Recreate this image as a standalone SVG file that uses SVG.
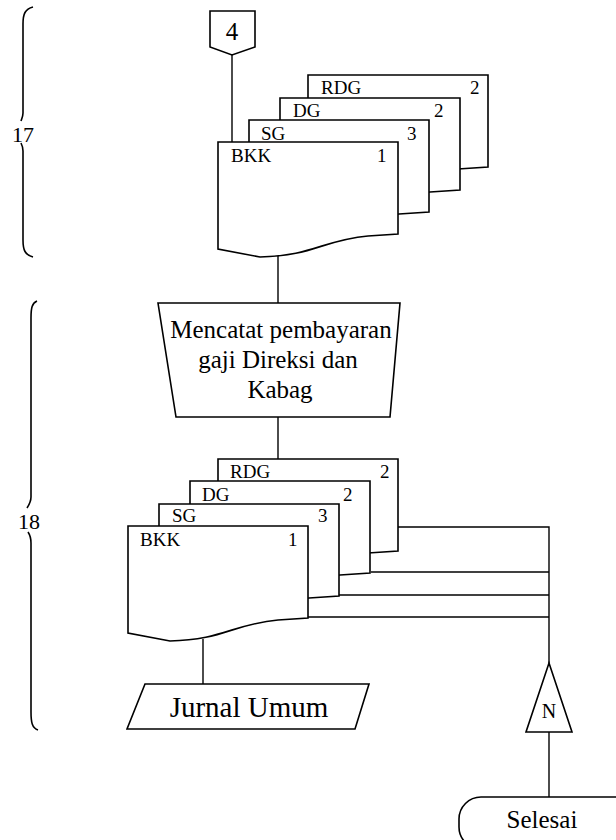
<svg xmlns="http://www.w3.org/2000/svg" width="616" height="840" viewBox="0 0 616 840" font-family="'Liberation Serif', 'Times New Roman', serif">
<defs>
<style>
.s{fill:#fff;stroke:#000;stroke-width:1.6;stroke-linejoin:miter}
.c{fill:none;stroke:#000;stroke-width:1.4}
.b{fill:none;stroke:#000;stroke-width:1.6}
text{font-family:'Liberation Serif','Times New Roman',serif;fill:#000}
.lbl{font-size:19px}
.mid{text-anchor:middle}
</style>
<path id="doc" d="M0,0 H180 V92 L150,94 C105,98 95,114 42,115 L0,107 Z"/>
</defs>
<rect width="616" height="840" fill="#fff"/>

<g id="braces">
<path class="b" d="M33,7 C25,9 23,14 23,24 V113 C23,116 22,118 21,121"/>
<path class="b" d="M21,143 C22,145 23,147 23,151 V240 C23,250 25,255 33,257"/>
<text x="23" y="142" font-size="22" class="mid">17</text>
<path class="b" d="M37,301 C32,303 31,308 31,318 V497 C31,502 29,505 27,508"/>
<path class="b" d="M28,532 C30,535 31,538 31,543 V712 C31,722 32,728 38,730"/>
<text x="29" y="529" font-size="22" class="mid">18</text>
</g>

<g id="connectors">
<line class="c" x1="232" y1="55" x2="232" y2="143"/>
<line class="c" x1="278" y1="256" x2="278" y2="303"/>
<line class="c" x1="278" y1="417" x2="278" y2="459"/>
<line class="c" x1="203" y1="639" x2="203" y2="684"/>
<polyline class="c" points="398,527 549,527 549,663"/>
<line class="c" x1="371" y1="572" x2="549" y2="572"/>
<line class="c" x1="339" y1="595" x2="549" y2="595"/>
<line class="c" x1="308" y1="617" x2="549" y2="617"/>
<line class="c" x1="549" y1="732" x2="549" y2="797"/>
</g>

<g id="offpage4">
<polygon class="s" points="210,11 255,11 255,47 232,55 210,47"/>
<text x="232" y="40" font-size="25" class="mid">4</text>
</g>

<g id="docs-top">
<g transform="translate(308,75)"><use href="#doc" class="s"/><text x="13" y="19" class="lbl">RDG</text><text x="162" y="19" class="lbl">2</text></g>
<g transform="translate(280,98)"><use href="#doc" class="s"/><text x="13" y="19" class="lbl">DG</text><text x="154" y="19" class="lbl">2</text></g>
<g transform="translate(249,120)"><use href="#doc" class="s"/><text x="12" y="20" class="lbl">SG</text><text x="158" y="20" class="lbl">3</text></g>
<g transform="translate(218,142)"><use href="#doc" class="s"/><text x="13" y="20" class="lbl">BKK</text><text x="159" y="20" class="lbl">1</text></g>
</g>

<g id="process">
<polygon class="s" points="158,303 400,303 390,417 176,417"/>
<text x="281" y="338" font-size="25" class="mid">Mencatat pembayaran</text>
<text x="278" y="368" font-size="25" class="mid">gaji Direksi dan</text>
<text x="280" y="398" font-size="25" class="mid">Kabag</text>
</g>

<g id="docs-bottom">
<g transform="translate(218,459)"><use href="#doc" class="s"/><text x="12" y="19" class="lbl">RDG</text><text x="162" y="19" class="lbl">2</text></g>
<g transform="translate(190,481)"><use href="#doc" class="s"/><text x="12" y="20" class="lbl">DG</text><text x="153" y="20" class="lbl">2</text></g>
<g transform="translate(159,504)"><use href="#doc" class="s"/><text x="13" y="18" class="lbl">SG</text><text x="159" y="18" class="lbl">3</text></g>
<g transform="translate(128,526)"><use href="#doc" class="s"/><text x="12" y="20" class="lbl">BKK</text><text x="160" y="20" class="lbl">1</text></g>
</g>

<g id="jurnal">
<polygon class="s" points="145,684 369,684 355,729 127,729"/>
<text x="249" y="717" font-size="29" class="mid">Jurnal Umum</text>
</g>

<g id="offpageN">
<polygon class="s" points="549,663 572,732 526,732"/>
<text x="549" y="718" font-size="20" class="mid">N</text>
</g>

<g id="selesai">
<rect class="s" x="459" y="797" width="182" height="52" rx="22" ry="22"/>
<text x="542" y="828" font-size="25" class="mid">Selesai</text>
</g>
</svg>
